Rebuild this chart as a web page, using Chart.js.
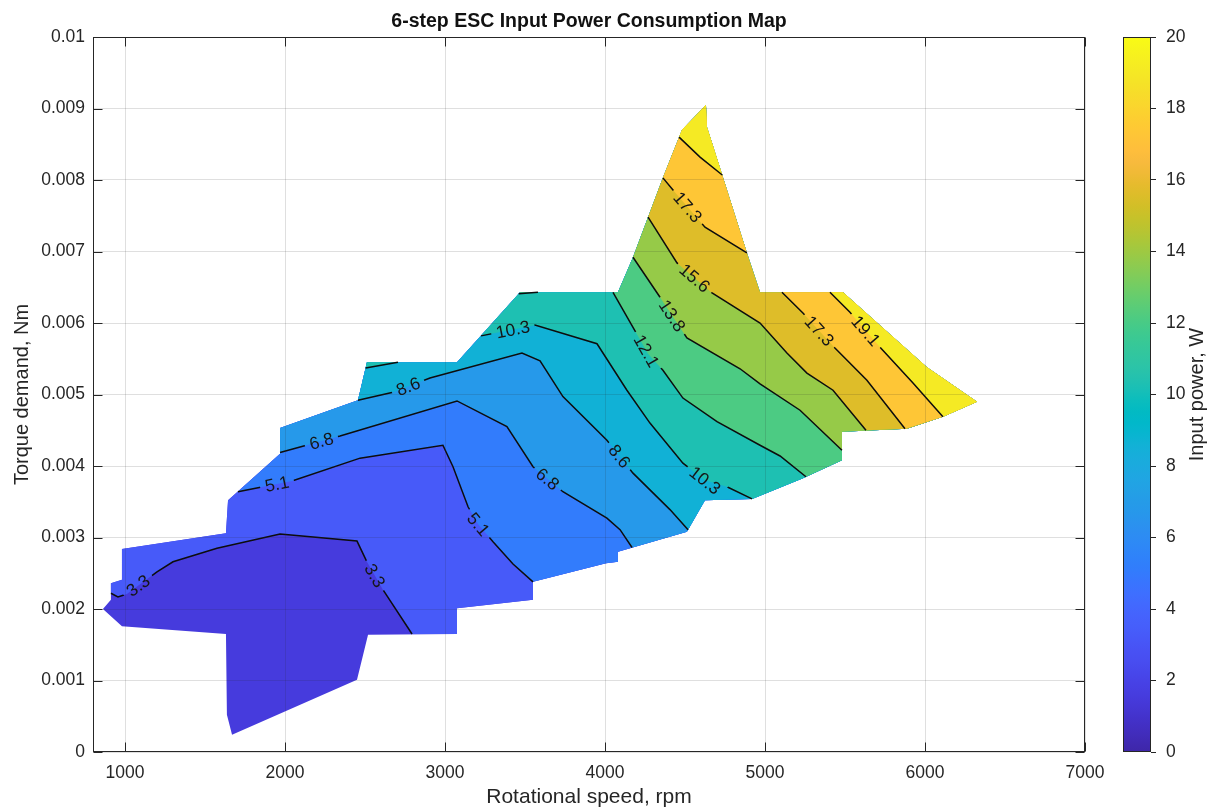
<!DOCTYPE html>
<html>
<head>
<meta charset="utf-8">
<title>6-step ESC Input Power Consumption Map</title>
<script src="https://cdn.jsdelivr.net/npm/chart.js@4.4.1/dist/chart.umd.min.js"></script>
<style>
  html, body { margin: 0; padding: 0; background: #ffffff; }
  #wrap { position: relative; width: 1217px; height: 812px; overflow: hidden; }
  #map { position: absolute; left: 0; top: 0; }
  #cbar { position: absolute; left: 1090px; top: 0; }
</style>
</head>
<body>
<div id="wrap">
  <canvas id="map" width="1217" height="812"></canvas>
  <canvas id="cbar" width="127" height="812"></canvas>
</div>
<script>
// ---- texts ----
const chartTitle = '6-step ESC Input Power Consumption Map';
const xTitle = 'Rotational speed, rpm';
const yTitle = 'Torque demand, Nm';
const cbarTitle = 'Input power, W';

// ---- axes ----
const xRange = [800, 7000];
const yRange = [0, 0.01];
const xTicks = [1000, 2000, 3000, 4000, 5000, 6000, 7000];
const yTicks = [0, 0.001, 0.002, 0.003, 0.004, 0.005, 0.006, 0.007, 0.008, 0.009, 0.01];
const yTickLabels = ['0', '0.001', '0.002', '0.003', '0.004', '0.005', '0.006', '0.007', '0.008', '0.009', '0.01'];
const cbarRange = [0, 20];
const cbarTicks = [0, 2, 4, 6, 8, 10, 12, 14, 16, 18, 20];

// ---- contour levels (W) ----
const baseLevel = 1.55;
const levels = [3.3, 5.1, 6.8, 8.6, 10.3, 12.1, 13.8, 15.6, 17.3, 19.1];

// ---- measured envelope of the map: [rpm, Nm] ----
const outline = [
  [862, 0.00200], [912, 0.00213], [912, 0.00236], [981, 0.00241], [981, 0.00284],
  [1631, 0.00306], [1644, 0.00352], [1969, 0.00417], [1969, 0.00453], [2456, 0.00492],
  [2512, 0.00545], [3075, 0.00545], [3469, 0.00643], [4081, 0.00643], [4175, 0.00692],
  [4269, 0.00748], [4362, 0.00803], [4481, 0.00870], [4631, 0.00905], [4637, 0.00874],
  [4737, 0.00804], [4887, 0.00698], [4969, 0.00643], [5487, 0.00643], [6012, 0.00538],
  [6325, 0.00490], [6112, 0.00469], [5887, 0.00452], [5481, 0.00448], [5481, 0.00408],
  [5237, 0.00383], [4919, 0.00354], [4625, 0.00352], [4512, 0.00308], [4081, 0.00280],
  [4081, 0.00266], [4006, 0.00264], [3550, 0.00238], [3550, 0.00213], [3075, 0.00201],
  [3075, 0.00165], [2519, 0.00164], [2450, 0.00101], [1669, 0.00024], [1637, 0.00052],
  [1631, 0.00165], [981, 0.00176]
];

// ---- iso-power lines: [rpm, Nm] ----
const c33 = [[912, 0.00222], [956, 0.00217], [1012, 0.00221], [1200, 0.00252], [1300, 0.00266],
  [1575, 0.00285], [1969, 0.00305], [2450, 0.00295], [2512, 0.00266], [2612, 0.00227], [2794, 0.00165]];
const c51 = [[1706, 0.00364], [2044, 0.00379], [2469, 0.00411], [2987, 0.00429], [3050, 0.00399],
  [3144, 0.00343], [3206, 0.00319], [3300, 0.00294], [3425, 0.00263], [3550, 0.00238]];
const c68 = [[1969, 0.00419], [2344, 0.00442], [3075, 0.00491], [3387, 0.00455], [3550, 0.00399],
  [3737, 0.00364], [4012, 0.00327], [4094, 0.00311], [4169, 0.00286]];
const c86 = [[2456, 0.00492], [2675, 0.00503], [2906, 0.00523], [3481, 0.00558], [3594, 0.00547],
  [3737, 0.00497], [4012, 0.00436], [4175, 0.00390], [4406, 0.00339], [4519, 0.00311]];
const c103 = [[3225, 0.00582], [3562, 0.00597], [3950, 0.00571], [4137, 0.00506], [4281, 0.00460],
  [4487, 0.00404], [4625, 0.00380], [4762, 0.00371], [4919, 0.00354]];
const c103corner = [[2504, 0.00537], [2706, 0.00545]];
const c121 = [[4050, 0.00643], [4175, 0.00594], [4269, 0.00557], [4362, 0.00534], [4487, 0.00495],
  [4700, 0.00462], [4969, 0.00429], [5094, 0.00414], [5256, 0.00385]];
const c121corner = [[3461, 0.00641], [3581, 0.00643]];
const c138 = [[4175, 0.00692], [4344, 0.00636], [4512, 0.00579], [4844, 0.00536], [4969, 0.00515],
  [5219, 0.00478], [5481, 0.00422]];
const c156 = [[4269, 0.00748], [4450, 0.00684], [4669, 0.00642], [4969, 0.00600], [5137, 0.00558],
  [5262, 0.00530], [5425, 0.00506], [5631, 0.00450]];
const c173peak = [[4362, 0.00803], [4425, 0.00786], [4625, 0.00734], [4887, 0.00698]];
const c173high = [[5106, 0.00643], [5237, 0.00614], [5437, 0.00565], [5637, 0.00520], [5875, 0.00452]];
const c191peak = [[4463, 0.00860], [4594, 0.00832], [4733, 0.00807]];
const c191high = [[5406, 0.00643], [5531, 0.00615], [5719, 0.00566], [5925, 0.00516], [6112, 0.00469]];

// inline contour labels: text and approximate spot on its line
const contourLabels = [
  { text: '3.3', line: c33, at: [1094, 0.00229] },
  { text: '3.3', line: c33, at: [2556, 0.00246] },
  { text: '5.1', line: c51, at: [1950, 0.00375] },
  { text: '5.1', line: c51, at: [3212, 0.00319] },
  { text: '6.8', line: c68, at: [2231, 0.00432] },
  { text: '6.8', line: c68, at: [3631, 0.00379] },
  { text: '8.6', line: c86, at: [2775, 0.00508] },
  { text: '8.6', line: c86, at: [4087, 0.00413] },
  { text: '10.3', line: c103, at: [3425, 0.00590] },
  { text: '10.3', line: c103, at: [4625, 0.00380] },
  { text: '12.1', line: c121, at: [4269, 0.00562] },
  { text: '13.8', line: c138, at: [4419, 0.00610] },
  { text: '15.6', line: c156, at: [4550, 0.00660] },
  { text: '17.3', line: c173peak, at: [4512, 0.00761] },
  { text: '17.3', line: c173high, at: [5331, 0.00587] },
  { text: '19.1', line: c191high, at: [5619, 0.00587] }
];

// parula colormap (64 entries)
const parula = [
  [0.2422,0.1504,0.6603],[0.2504,0.1650,0.7076],[0.2578,0.1818,0.7511],[0.2647,0.1978,0.7952],
  [0.2706,0.2147,0.8364],[0.2751,0.2342,0.8710],[0.2783,0.2559,0.8991],[0.2803,0.2782,0.9221],
  [0.2813,0.3006,0.9414],[0.2810,0.3228,0.9579],[0.2795,0.3447,0.9717],[0.2760,0.3667,0.9829],
  [0.2699,0.3892,0.9906],[0.2602,0.4123,0.9952],[0.2440,0.4358,0.9988],[0.2206,0.4603,0.9973],
  [0.1963,0.4847,0.9892],[0.1834,0.5074,0.9798],[0.1786,0.5289,0.9682],[0.1764,0.5499,0.9520],
  [0.1687,0.5703,0.9359],[0.1540,0.5902,0.9218],[0.1460,0.6091,0.9079],[0.1380,0.6276,0.8973],
  [0.1248,0.6459,0.8883],[0.1113,0.6635,0.8763],[0.0952,0.6798,0.8598],[0.0689,0.6948,0.8394],
  [0.0297,0.7082,0.8163],[0.0036,0.7203,0.7917],[0.0067,0.7312,0.7660],[0.0433,0.7411,0.7394],
  [0.0964,0.7500,0.7120],[0.1408,0.7584,0.6842],[0.1717,0.7670,0.6554],[0.1938,0.7758,0.6251],
  [0.2161,0.7843,0.5923],[0.2470,0.7918,0.5567],[0.2906,0.7973,0.5188],[0.3406,0.8008,0.4789],
  [0.3909,0.8029,0.4354],[0.4456,0.8024,0.3909],[0.5044,0.7993,0.3480],[0.5616,0.7942,0.3045],
  [0.6174,0.7876,0.2612],[0.6720,0.7793,0.2227],[0.7242,0.7698,0.1910],[0.7738,0.7598,0.1646],
  [0.8203,0.7498,0.1535],[0.8634,0.7406,0.1596],[0.9035,0.7330,0.1774],[0.9393,0.7288,0.2100],
  [0.9728,0.7298,0.2394],[0.9956,0.7434,0.2371],[0.9970,0.7659,0.2199],[0.9952,0.7893,0.2028],
  [0.9892,0.8136,0.1885],[0.9786,0.8386,0.1766],[0.9676,0.8639,0.1643],[0.9610,0.8890,0.1537],
  [0.9597,0.9135,0.1423],[0.9628,0.9373,0.1265],[0.9691,0.9606,0.1064],[0.9769,0.9839,0.0805]
];

function colorAt(value) {
  const t = Math.min(1, Math.max(0, (value - cbarRange[0]) / (cbarRange[1] - cbarRange[0])));
  const f = t * (parula.length - 1);
  const i = Math.min(parula.length - 2, Math.floor(f));
  const w = f - i;
  const c = [0, 1, 2].map(k => Math.round(255 * (parula[i][k] * (1 - w) + parula[i + 1][k] * w)));
  return `rgb(${c[0]},${c[1]},${c[2]})`;
}

// area at or above a level: its iso-line followed by the envelope walked back
function region(line, from, to) {
  const pts = line.slice();
  for (let i = from; i >= to; i--) pts.push(outline[i]);
  return pts;
}

const fillRegions = [
  { level: baseLevel, pts: outline },
  { level: levels[0], pts: region(c33, 40, 2) },
  { level: levels[1], pts: region(c51, 36, 7) },
  { level: levels[2], pts: region(c68, 33, 8) },
  { level: levels[3], pts: region(c86, 32, 10) },
  { level: levels[4], pts: region(c103, 30, 12) },
  { level: levels[4], pts: region(c103corner, 10, 10) },
  { level: levels[5], pts: region(c121, 29, 13) },
  { level: levels[5], pts: region(c121corner, 12, 12) },
  { level: levels[6], pts: region(c138, 28, 15) },
  { level: levels[7], pts: region(c156, 27, 16) },
  { level: levels[8], pts: region(c173peak, 20, 17) },
  { level: levels[8], pts: region(c173high, 26, 23) },
  { level: levels[9], pts: region(c191peak, 19, 17) },
  { level: levels[9], pts: region(c191high, 25, 23) }
];

const isoLines = [c33, c51, c68, c86, c103, c103corner, c121, c121corner, c138, c156,
  c173peak, c173high, c191peak, c191high];

const fontFamily = '"Liberation Sans", Arial, Helvetica, sans-serif';
const inkColor = '#262626';
const labelFontSize = 17.5;
const labelFont = `${labelFontSize}px ${fontFamily}`;

Chart.defaults.font.family = fontFamily;
Chart.defaults.color = inkColor;

const toXY = pts => pts.map(([x, y]) => ({ x, y }));

const datasets = [];
fillRegions.forEach((r, i) => {
  datasets.push({
    data: toXY(r.pts),
    showLine: true,
    fill: 'shape',
    backgroundColor: colorAt(r.level),
    borderColor: 'transparent',
    borderWidth: 0,
    pointRadius: 0,
    tension: 0,
    order: 200 - i
  });
});
isoLines.forEach(line => {
  datasets.push({
    data: toXY(line),
    showLine: true,
    fill: false,
    borderColor: '#0d0d0d',
    borderWidth: 1.5,
    pointRadius: 0,
    tension: 0,
    order: 1,
    isContour: true
  });
});

// label placement in pixels: projected onto its line, rotated along it
function labelGeometry(chart) {
  const xs = chart.scales.x, ys = chart.scales.y, ctx = chart.ctx;
  ctx.save();
  ctx.font = labelFont;
  const out = contourLabels.map(lb => {
    const px = xs.getPixelForValue(lb.at[0]), py = ys.getPixelForValue(lb.at[1]);
    const pts = lb.line.map(([u, v]) => [xs.getPixelForValue(u), ys.getPixelForValue(v)]);
    let best = null;
    for (let i = 0; i < pts.length - 1; i++) {
      const [x1, y1] = pts[i], [x2, y2] = pts[i + 1];
      const dx = x2 - x1, dy = y2 - y1, len2 = dx * dx + dy * dy;
      let t = len2 ? ((px - x1) * dx + (py - y1) * dy) / len2 : 0;
      t = Math.max(0, Math.min(1, t));
      const qx = x1 + t * dx, qy = y1 + t * dy;
      const d = (qx - px) ** 2 + (qy - py) ** 2;
      if (!best || d < best.d) best = { d, x: qx, y: qy, angle: Math.atan2(dy, dx) };
    }
    let a = best.angle;
    if (a > Math.PI / 2) a -= Math.PI;
    if (a < -Math.PI / 2) a += Math.PI;
    return { text: lb.text, x: best.x, y: best.y, angle: a, w: ctx.measureText(lb.text).width };
  });
  ctx.restore();
  return out;
}

const contourLabelPlugin = {
  id: 'contourLabels',
  beforeDatasetDraw(chart, args) {
    const ds = chart.data.datasets[args.index];
    if (!ds.isContour) return;
    const ctx = chart.ctx;
    ctx.save();
    ctx.beginPath();
    ctx.rect(0, 0, chart.width, chart.height);
    for (const g of labelGeometry(chart)) {
      const c = Math.cos(g.angle), s = Math.sin(g.angle);
      const hw = g.w / 2 + 5, hh = 10;
      const corners = [[-hw, -hh], [hw, -hh], [hw, hh], [-hw, hh]]
        .map(([u, v]) => [g.x + u * c - v * s, g.y + u * s + v * c]);
      ctx.moveTo(corners[0][0], corners[0][1]);
      for (let k = 1; k < 4; k++) ctx.lineTo(corners[k][0], corners[k][1]);
      ctx.closePath();
    }
    ctx.clip('evenodd');
  },
  afterDatasetDraw(chart, args) {
    const ds = chart.data.datasets[args.index];
    if (ds.isContour) chart.ctx.restore();
  },
  afterDraw(chart) {
    const ctx = chart.ctx;
    ctx.save();
    ctx.font = labelFont;
    ctx.fillStyle = '#161616';
    ctx.textAlign = 'center';
    ctx.textBaseline = 'middle';
    for (const g of labelGeometry(chart)) {
      ctx.save();
      ctx.translate(g.x, g.y);
      ctx.rotate(g.angle);
      ctx.fillText(g.text, 0, 1);
      ctx.restore();
    }
    ctx.restore();
  }
};

// box round the axes with inward tick marks on all four sides
const axesBoxPlugin = {
  id: 'axesBox',
  afterDraw(chart) {
    const { ctx, chartArea: a } = chart;
    const xs = chart.scales.x, ys = chart.scales.y;
    const L = Math.round(a.left) + 0.5, R = Math.round(a.right) - 0.5;
    const T = Math.round(a.top) + 0.5, B = Math.round(a.bottom) - 0.5;
    const tick = 9;
    ctx.save();
    ctx.strokeStyle = inkColor;
    ctx.lineWidth = 1;
    ctx.strokeRect(L, T, R - L, B - T);
    ctx.beginPath();
    for (const v of xTicks) {
      const p = Math.round(xs.getPixelForValue(v)) + 0.5;
      ctx.moveTo(p, B); ctx.lineTo(p, B - tick);
      ctx.moveTo(p, T); ctx.lineTo(p, T + tick);
    }
    for (const v of yTicks) {
      const p = Math.round(ys.getPixelForValue(v)) + 0.5;
      ctx.moveTo(L, p); ctx.lineTo(L + tick, p);
      ctx.moveTo(R, p); ctx.lineTo(R - tick, p);
    }
    ctx.stroke();
    ctx.restore();
  }
};

new Chart(document.getElementById('map'), {
  type: 'scatter',
  data: { datasets },
  options: {
    responsive: false,
    animation: false,
    events: [],
    layout: { padding: { left: 0, right: 132, top: 0, bottom: 0 } },
    plugins: {
      legend: { display: false },
      tooltip: { enabled: false },
      title: {
        display: true,
        text: chartTitle,
        fullSize: false,
        color: '#111111',
        font: { size: 19.5, weight: 'bold' },
        padding: { top: 10, bottom: 3.6 }
      }
    },
    scales: {
      x: {
        type: 'linear',
        min: xRange[0],
        max: xRange[1],
        afterBuildTicks: s => { s.ticks = xTicks.map(v => ({ value: v })); },
        afterFit: s => { s.height = 60; },
        ticks: { font: { size: 17.5 }, padding: 11, maxRotation: 0, callback: v => String(v) },
        grid: { color: 'rgba(38,38,38,0.15)', lineWidth: 1, drawTicks: false, z: 1 },
        border: { display: false },
        title: { display: true, text: xTitle, font: { size: 21 }, padding: { top: 0, bottom: 2 } }
      },
      y: {
        type: 'linear',
        min: yRange[0],
        max: yRange[1],
        afterBuildTicks: s => { s.ticks = yTicks.map(v => ({ value: v })); },
        afterFit: s => { s.width = 93; },
        ticks: {
          font: { size: 17.5 },
          padding: 8,
          callback: (v) => { const i = yTicks.findIndex(t => Math.abs(t - v) < 1e-9); return i >= 0 ? yTickLabels[i] : ''; }
        },
        grid: { color: 'rgba(38,38,38,0.15)', lineWidth: 1, drawTicks: false, z: 1 },
        border: { display: false },
        title: { display: true, text: yTitle, font: { size: 20 }, padding: { top: 10, bottom: 0 } }
      }
    }
  },
  plugins: [contourLabelPlugin, axesBoxPlugin]
});

// ---- colour bar ----
function barGradient(chart) {
  const a = chart.chartArea;
  if (!a) return colorAt(10);
  const g = chart.ctx.createLinearGradient(0, a.bottom, 0, a.top);
  parula.forEach((c, i) => {
    g.addColorStop(i / (parula.length - 1),
      `rgb(${Math.round(c[0] * 255)},${Math.round(c[1] * 255)},${Math.round(c[2] * 255)})`);
  });
  return g;
}

const cbarFramePlugin = {
  id: 'cbarFrame',
  afterDraw(chart) {
    const { ctx, chartArea: a } = chart;
    ctx.save();
    ctx.strokeStyle = inkColor;
    ctx.lineWidth = 1;
    const L = Math.round(a.left) + 0.5, R = Math.round(a.right) - 0.5;
    const T = Math.round(a.top) + 0.5, B = Math.round(a.bottom) - 0.5;
    ctx.strokeRect(L, T, R - L, B - T);
    ctx.fillStyle = inkColor;
    ctx.font = `20px ${fontFamily}`;
    ctx.textAlign = 'center';
    ctx.textBaseline = 'middle';
    ctx.translate(107, (a.top + a.bottom) / 2);
    ctx.rotate(-Math.PI / 2);
    ctx.fillText(cbarTitle, 0, 0);
    ctx.restore();
  }
};

new Chart(document.getElementById('cbar'), {
  type: 'bar',
  data: {
    labels: [''],
    datasets: [{
      data: [[cbarRange[0], cbarRange[1]]],
      backgroundColor: ctx => barGradient(ctx.chart),
      borderWidth: 0,
      barPercentage: 1,
      categoryPercentage: 1
    }]
  },
  options: {
    responsive: false,
    animation: false,
    events: [],
    layout: { padding: { left: 33, right: 0, top: 37, bottom: 60 } },
    plugins: { legend: { display: false }, tooltip: { enabled: false } },
    scales: {
      x: { display: false },
      y: {
        position: 'right',
        min: cbarRange[0],
        max: cbarRange[1],
        afterBuildTicks: s => { s.ticks = cbarTicks.map(v => ({ value: v })); },
        afterFit: s => { s.width = 66; },
        ticks: { font: { size: 17.5 }, padding: 10, callback: v => String(v) },
        grid: { drawOnChartArea: false, drawTicks: true, tickLength: 5, color: inkColor },
        border: { display: false }
      }
    }
  },
  plugins: [cbarFramePlugin]
});
</script>
</body>
</html>
